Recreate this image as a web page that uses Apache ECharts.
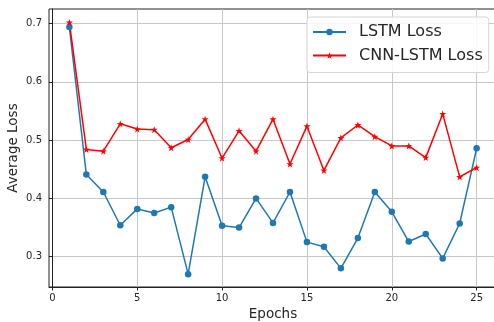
<!DOCTYPE html>
<html>
<head>
<meta charset="utf-8">
<script src="https://cdn.jsdelivr.net/npm/echarts@6/dist/echarts.min.js"></script>
<style>html,body{margin:0;padding:0;background:#fff}#c{width:494px;height:322px}</style>
</head>
<body>
<div id="c"></div>
<script>
const epochs = [1,2,3,4,5,6,7,8,9,10,11,12,13,14,15,16,17,18,19,20,21,22,23,24,25];
const lstmLoss = [0.694,0.441,0.411,0.354,0.382,0.375,0.385,0.270,0.437,0.353,0.350,0.400,0.358,0.411,0.325,0.317,0.280,0.332,0.411,0.377,0.326,0.339,0.297,0.357,0.486];
const cnnLstmLoss = [0.702,0.484,0.481,0.528,0.519,0.518,0.487,0.501,0.536,0.469,0.516,0.481,0.536,0.459,0.524,0.448,0.504,0.526,0.506,0.490,0.490,0.470,0.545,0.437,0.453];
const xTicks = [0,5,10,15,20,25];
const yTicks = [0.3,0.4,0.5,0.6,0.7];
const seriesNames = ['LSTM Loss','CNN-LSTM Loss'];

const FONT = 'DejaVu Sans';
const TXT = '#262626';
const star = 'path://M0,-10 L2.35,-3.24 L9.51,-3.09 L3.8,1.24 L5.88,8.09 L0,4 L-5.88,8.09 L-3.8,1.24 L-9.51,-3.09 L-2.35,-3.24 Z';

const chart = echarts.init(document.getElementById('c'), null, {renderer:'canvas'});
chart.setOption({
  animation:false,
  backgroundColor:'#fff',
  grid:{left:49, top:9, right:-3, bottom:35, containLabel:false, outerBoundsMode:'none',
        show:true, borderColor:'#222', borderWidth:1, backgroundColor:'transparent'},
  legend:{
    orient:'vertical', left:307, top:17,
    padding:[7,6,9,5],
    backgroundColor:'rgba(255,255,255,0.85)', borderColor:'#d6d6d6', borderWidth:1, borderRadius:3,
    itemWidth:33, itemHeight:8, itemGap:7.5,
    textStyle:{fontFamily:FONT, fontSize:16, color:TXT, lineHeight:16, padding:[0,0,0,8]},
    data:seriesNames
  },
  xAxis:{
    type:'value', min:-0.2, max:26.2,
    name:'Epochs', nameLocation:'middle', nameGap:20, nameMoveOverlap:false,
    nameTextStyle:{fontFamily:FONT, fontSize:13.5, color:TXT},
    axisLine:{show:true, lineStyle:{color:'#222', width:1}},
    axisTick:{show:true, inside:false, length:3.5, customValues:xTicks, lineStyle:{color:'#222'}},
    axisLabel:{customValues:xTicks, margin:6, fontFamily:FONT, fontSize:10, color:TXT},
    splitLine:{show:true, lineStyle:{color:'#c8c8c8', width:1}}
  },
  yAxis:{
    type:'value', min:0.248, max:0.725,
    name:'Average Loss', nameLocation:'middle', nameGap:29, nameMoveOverlap:false,
    nameTextStyle:{fontFamily:FONT, fontSize:13.5, color:TXT},
    axisLine:{show:true, lineStyle:{color:'#222', width:1}},
    axisTick:{show:true, inside:false, length:3.5, customValues:yTicks, lineStyle:{color:'#222'}},
    axisLabel:{customValues:yTicks, margin:7, fontFamily:FONT, fontSize:10, color:TXT, formatter:v=>v.toFixed(1)},
    splitLine:{show:true, lineStyle:{color:'#c8c8c8', width:1}}
  },
  series:[
    {name:seriesNames[0], type:'line', data:epochs.map((e,i)=>[e,lstmLoss[i]]),
     symbol:'circle', symbolSize:6.5, showSymbol:true,
     itemStyle:{color:'#1f77b4'}, lineStyle:{color:'#1f77b4', width:1.5}},
    {name:seriesNames[1], type:'line', data:epochs.map((e,i)=>[e,cnnLstmLoss[i]]),
     symbol:star, symbolSize:7, showSymbol:true,
     itemStyle:{color:'#ff0000'}, lineStyle:{color:'#ff0000', width:1.5}}
  ]
});
</script>
</body>
</html>
